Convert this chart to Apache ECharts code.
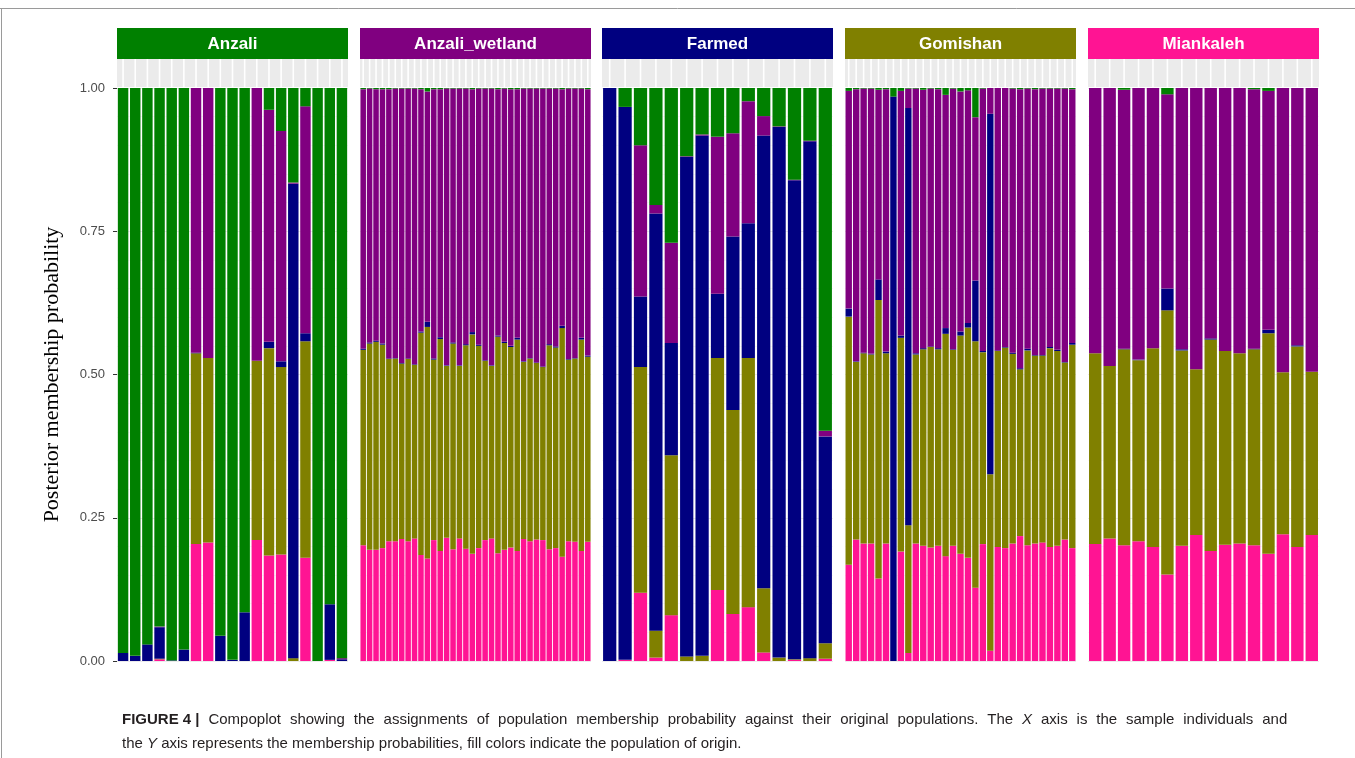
<!DOCTYPE html>
<html>
<head>
<meta charset="utf-8">
<script src="https://cdn.jsdelivr.net/npm/echarts@6/dist/echarts.min.js"></script>
<style>
html,body{margin:0;padding:0;background:#fff;}
#chart{width:1355px;height:758px;}
</style>
</head>
<body>
<div id="chart"></div>
<script>
// Populations (facets) and cluster colours
const populations = ['Anzali', 'Anzali_wetland', 'Farmed', 'Gomishan', 'Miankaleh'];
// cluster order in each stack, bottom to top
const clusters = ['Miankaleh', 'Gomishan', 'Farmed', 'Anzali_wetland', 'Anzali'];
const yTicks = ['0.00', '0.25', '0.50', '0.75', '1.00'];

// Membership probabilities per individual: [Miankaleh, Gomishan, Farmed, Anzali_wetland, Anzali]
const anzali = [
  [0, 0, 0.014, 0, 0.986],
  [0, 0, 0.009, 0, 0.991],
  [0, 0, 0.029, 0, 0.971],
  [0.003, 0.001, 0.055, 0.001, 0.940],
  [0, 0, 0.001, 0, 0.999],
  [0, 0, 0.020, 0, 0.980],
  [0.204, 0.333, 0.001, 0.462, 0],
  [0.207, 0.322, 0, 0.471, 0],
  [0, 0, 0.044, 0, 0.956],
  [0, 0, 0.002, 0, 0.998],
  [0, 0, 0.085, 0, 0.915],
  [0.211, 0.313, 0, 0.476, 0],
  [0.184, 0.362, 0.011, 0.405, 0.038],
  [0.186, 0.327, 0.010, 0.402, 0.075],
  [0, 0.005, 0.828, 0.002, 0.165],
  [0.180, 0.378, 0.014, 0.396, 0.032],
  [0, 0, 0, 0, 1],
  [0.002, 0, 0.097, 0, 0.901],
  [0, 0, 0.003, 0.002, 0.995]
];
const anzaliWetland = [
  [0.202, 0.341, 0.002, 0.453, 0.002],
  [0.194, 0.360, 0.002, 0.443, 0.001],
  [0.194, 0.363, 0.002, 0.439, 0.002],
  [0.197, 0.355, 0.002, 0.444, 0.002],
  [0.209, 0.318, 0.001, 0.470, 0.002],
  [0.209, 0.319, 0.001, 0.470, 0.001],
  [0.213, 0.306, 0.001, 0.479, 0.001],
  [0.209, 0.318, 0.001, 0.471, 0.001],
  [0.214, 0.303, 0.001, 0.481, 0.001],
  [0.185, 0.388, 0.002, 0.423, 0.002],
  [0.179, 0.404, 0.009, 0.402, 0.006],
  [0.211, 0.315, 0.002, 0.470, 0.002],
  [0.192, 0.370, 0.003, 0.433, 0.002],
  [0.215, 0.300, 0.001, 0.483, 0.001],
  [0.195, 0.359, 0.002, 0.443, 0.001],
  [0.214, 0.301, 0.001, 0.483, 0.001],
  [0.196, 0.355, 0.002, 0.446, 0.001],
  [0.187, 0.383, 0.004, 0.424, 0.002],
  [0.197, 0.353, 0.002, 0.447, 0.001],
  [0.211, 0.313, 0.001, 0.474, 0.001],
  [0.214, 0.301, 0.001, 0.483, 0.001],
  [0.188, 0.378, 0.002, 0.430, 0.002],
  [0.194, 0.361, 0.002, 0.442, 0.001],
  [0.198, 0.350, 0.002, 0.448, 0.002],
  [0.192, 0.369, 0.003, 0.434, 0.002],
  [0.213, 0.309, 0.001, 0.476, 0.001],
  [0.209, 0.319, 0.001, 0.470, 0.001],
  [0.212, 0.308, 0.001, 0.478, 0.001],
  [0.211, 0.302, 0.001, 0.485, 0.001],
  [0.195, 0.356, 0.002, 0.446, 0.001],
  [0.197, 0.350, 0.002, 0.450, 0.001],
  [0.182, 0.399, 0.004, 0.413, 0.002],
  [0.209, 0.317, 0.001, 0.472, 0.001],
  [0.208, 0.320, 0.001, 0.470, 0.001],
  [0.192, 0.369, 0.003, 0.435, 0.001],
  [0.208, 0.323, 0.002, 0.465, 0.002]
];
const farmed = [
  [0, 0, 1.0, 0, 0],
  [0.002, 0, 0.965, 0, 0.033],
  [0.119, 0.394, 0.123, 0.264, 0.100],
  [0.006, 0.047, 0.728, 0.015, 0.204],
  [0.080, 0.279, 0.196, 0.175, 0.270],
  [0, 0.008, 0.872, 0.001, 0.119],
  [0, 0.009, 0.908, 0.002, 0.081],
  [0.124, 0.405, 0.112, 0.274, 0.085],
  [0.082, 0.356, 0.303, 0.180, 0.079],
  [0.094, 0.435, 0.235, 0.213, 0.023],
  [0.015, 0.112, 0.790, 0.034, 0.049],
  [0, 0.006, 0.926, 0.001, 0.067],
  [0.002, 0.001, 0.836, 0.001, 0.160],
  [0, 0.005, 0.902, 0.001, 0.092],
  [0.004, 0.027, 0.361, 0.010, 0.598]
];
const gomishan = [
  [0.168, 0.433, 0.014, 0.380, 0.005],
  [0.212, 0.310, 0.001, 0.475, 0.002],
  [0.205, 0.332, 0.001, 0.461, 0.001],
  [0.205, 0.330, 0.001, 0.463, 0.001],
  [0.144, 0.486, 0.036, 0.331, 0.003],
  [0.205, 0.332, 0.003, 0.458, 0.002],
  [0, 0, 0.985, 0, 0.015],
  [0.191, 0.373, 0.004, 0.427, 0.005],
  [0.014, 0.223, 0.728, 0.034, 0.001],
  [0.205, 0.330, 0.002, 0.462, 0.001],
  [0.201, 0.343, 0.002, 0.451, 0.003],
  [0.198, 0.350, 0.001, 0.450, 0.001],
  [0.201, 0.343, 0.002, 0.452, 0.002],
  [0.183, 0.388, 0.010, 0.407, 0.012],
  [0.201, 0.342, 0.001, 0.455, 0.001],
  [0.187, 0.381, 0.007, 0.419, 0.006],
  [0.180, 0.402, 0.008, 0.406, 0.004],
  [0.128, 0.430, 0.106, 0.285, 0.051],
  [0.204, 0.335, 0.002, 0.458, 0.001],
  [0.018, 0.308, 0.629, 0.045, 0],
  [0.199, 0.342, 0.001, 0.458, 0],
  [0.197, 0.350, 0.001, 0.452, 0],
  [0.205, 0.331, 0.002, 0.461, 0.001],
  [0.218, 0.291, 0.002, 0.487, 0.002],
  [0.202, 0.340, 0.003, 0.454, 0.001],
  [0.205, 0.328, 0.001, 0.464, 0.002],
  [0.207, 0.326, 0.001, 0.465, 0.001],
  [0.199, 0.347, 0.002, 0.451, 0.001],
  [0.201, 0.340, 0.002, 0.456, 0.001],
  [0.212, 0.309, 0.001, 0.477, 0.001],
  [0.197, 0.355, 0.003, 0.443, 0.002]
];
const miankaleh = [
  [0.204, 0.333, 0, 0.463, 0],
  [0.214, 0.301, 0, 0.485, 0],
  [0.202, 0.342, 0.001, 0.452, 0.003],
  [0.209, 0.316, 0.001, 0.474, 0],
  [0.199, 0.347, 0, 0.454, 0],
  [0.151, 0.461, 0.038, 0.339, 0.011],
  [0.201, 0.341, 0.002, 0.456, 0],
  [0.220, 0.289, 0, 0.491, 0],
  [0.192, 0.369, 0.002, 0.437, 0],
  [0.203, 0.338, 0, 0.459, 0],
  [0.205, 0.332, 0, 0.463, 0],
  [0.202, 0.342, 0.001, 0.453, 0.002],
  [0.187, 0.385, 0.006, 0.417, 0.005],
  [0.221, 0.283, 0, 0.496, 0],
  [0.199, 0.350, 0.002, 0.449, 0],
  [0.220, 0.285, 0, 0.495, 0]
];
const panelData = [anzali, anzaliWetland, farmed, gomishan, miankaleh];

// styling
const clusterColors = {
  'Anzali': '#008000',
  'Anzali_wetland': '#800080',
  'Farmed': '#000080',
  'Gomishan': '#808000',
  'Miankaleh': '#FF1493'
};
const panelLeft = [117, 360, 602, 845, 1088];
const panelWidth = 231;
const plotTop = 88, plotHeight = 573;
const stripTop = 59, stripHeight = 28;
const headTop = 28, headHeight = 31;

const grid = [], xAxis = [], yAxis = [], series = [], graphic = [];

panelData.forEach((rows, p) => {
  const cats = rows.map((r, i) => populations[p] + '_' + (i + 1));
  grid.push({left: panelLeft[p], top: plotTop, width: panelWidth, height: plotHeight, containLabel: false});
  grid.push({left: panelLeft[p], top: stripTop, width: panelWidth, height: stripHeight, containLabel: false,
    show: true, backgroundColor: '#ebebeb', borderWidth: 0});
  const gMain = 2 * p, gStrip = 2 * p + 1;
  xAxis.push({type: 'category', gridIndex: gMain, data: cats, boundaryGap: true,
    axisLine: {show: false}, axisTick: {show: false}, axisLabel: {show: false}});
  xAxis.push({type: 'category', gridIndex: gStrip, data: cats, boundaryGap: true,
    axisLine: {show: false}, axisTick: {show: false}, axisLabel: {show: false}});
  yAxis.push({type: 'value', gridIndex: gMain, min: 0, max: 1, interval: 0.25,
    name: p === 0 ? 'Posterior membership probability' : '',
    nameLocation: 'middle', nameGap: 54,
    nameTextStyle: {fontFamily: 'Liberation Serif', fontSize: 22, color: '#000'},
    axisLine: {show: false},
    axisTick: {show: p === 0, length: 4, lineStyle: {color: '#333'}},
    axisLabel: {show: p === 0, color: '#4d4d4d', fontSize: 13, fontFamily: 'Liberation Sans', margin: 12,
      formatter: v => yTicks[Math.round(v / 0.25)]},
    splitLine: {show: true, lineStyle: {color: '#ebebeb', width: 1}},
    minorTick: {show: false},
    minorSplitLine: {show: true, lineStyle: {color: '#f4f4f4', width: 0.6}}
  });
  yAxis.push({type: 'value', gridIndex: gStrip, min: 0, max: 1, show: false});

  clusters.forEach((cl, k) => {
    series.push({
      type: 'bar', name: cl, stack: 'pop' + p,
      xAxisIndex: gMain, yAxisIndex: gMain,
      barCategoryGap: '14%',
      itemStyle: {color: clusterColors[cl]},
      emphasis: {disabled: true},
      data: rows.map(r => r[k])
    });
  });
  series.push({
    type: 'custom', xAxisIndex: gStrip, yAxisIndex: gStrip,
    data: cats.map((c, i) => [i, 1]),
    renderItem: (params, api) => {
      const x = api.coord([api.value(0), 0])[0];
      const cs = params.coordSys;
      return {type: 'line', shape: {x1: x, y1: cs.y, x2: x, y2: cs.y + cs.height},
        style: {stroke: '#ffffff', lineWidth: 1.6}};
    },
    silent: true
  });

  graphic.push({type: 'rect', left: panelLeft[p], top: headTop,
    shape: {width: panelWidth, height: headHeight},
    style: {fill: clusterColors[populations[p]]}, silent: true});
  graphic.push({type: 'text', x: panelLeft[p] + panelWidth / 2, y: headTop + headHeight / 2 + 1,
    style: {text: populations[p], fill: '#fff', font: 'bold 17px "Liberation Sans"',
      textAlign: 'center', textVerticalAlign: 'middle'}, silent: true});
});

graphic.push({type: 'line', shape: {x1: 0, y1: 8.5, x2: 1355, y2: 8.5}, style: {stroke: '#9a9a9a', lineWidth: 1}, silent: true});
graphic.push({type: 'line', shape: {x1: 1.5, y1: 8, x2: 1.5, y2: 758}, style: {stroke: '#9a9a9a', lineWidth: 1}, silent: true});

// caption (first line justified by widening the word spaces)
const captionLine1 = 'Compoplot showing the assignments of population membership probability against their original populations. The {i|X} axis is the sample individuals and';
const captionLine2 = 'the {i|Y} axis represents the membership probabilities, fill colors indicate the population of origin.';
const capFont = {fontSize: 15, fontFamily: 'Liberation Sans', fill: '#231f20'};
graphic.push({type: 'text', left: 122, top: 708,
  style: {
    text: '{b|FIGURE 4 |}{s| }' + captionLine1.split(' ').join('{s| }') + '\n' + captionLine2,
    font: '15px "Liberation Sans"', fill: '#231f20', lineHeight: 24,
    rich: {
      b: Object.assign({fontWeight: 'bold'}, capFont),
      i: Object.assign({fontStyle: 'italic'}, capFont),
      s: Object.assign({width: 8.9}, capFont)
    }
  }, silent: true});

const chart = echarts.init(document.getElementById('chart'), null, {renderer: 'canvas'});
chart.setOption({
  animation: false,
  backgroundColor: '#ffffff',
  grid, xAxis, yAxis, series, graphic,
  tooltip: {show: false}
});
</script>
</body>
</html>
